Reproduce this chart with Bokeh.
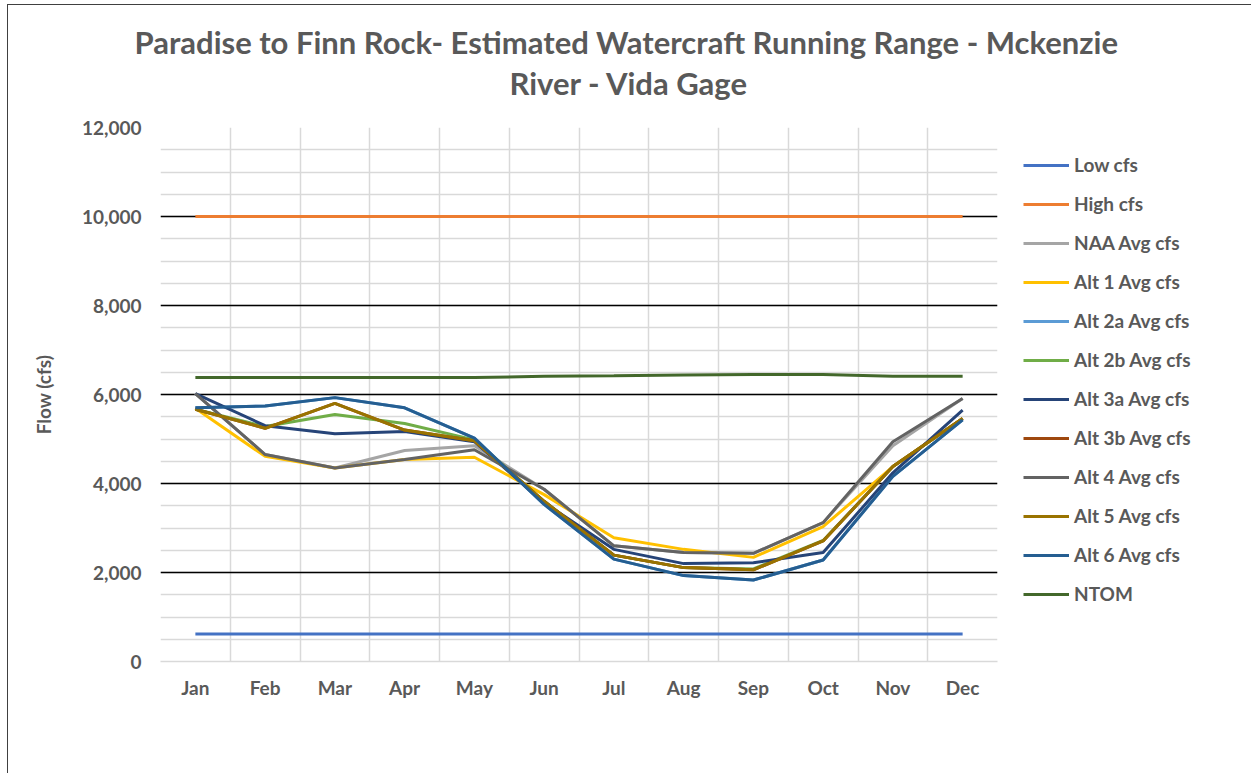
from bokeh.plotting import figure
from bokeh.models import Range1d, FixedTicker, Legend, LegendItem, Title, NumeralTickFormatter
from bokeh.embed import file_html
from bokeh.resources import INLINE

months = ["Jan", "Feb", "Mar", "Apr", "May", "Jun", "Jul", "Aug", "Sep", "Oct", "Nov", "Dec"]

low_cfs = [620, 620, 620, 620, 620, 620, 620, 620, 620, 620, 620, 620]
high_cfs = [10000, 10000, 10000, 10000, 10000, 10000, 10000, 10000, 10000, 10000, 10000, 10000]
naa_avg = [6020, 4650, 4350, 4740, 4850, 3870, 2600, 2450, 2430, 3120, 4850, 5910]
alt1_avg = [5690, 4610, 4350, 4540, 4590, 3750, 2780, 2520, 2340, 3030, 4380, 5460]
alt2a_avg = [5700, 5740, 5930, 5700, 5020, 3530, 2300, 1930, 1830, 2280, 4160, 5430]
alt2b_avg = [5670, 5280, 5550, 5350, 4980, 3600, 2390, 2110, 2080, 2720, 4380, 5460]
alt3a_avg = [6020, 5300, 5120, 5170, 4940, 3570, 2520, 2200, 2220, 2450, 4240, 5650]
alt3b_avg = [5670, 5240, 5800, 5200, 4960, 3600, 2390, 2110, 2060, 2710, 4380, 5460]
alt4_avg = [6020, 4650, 4350, 4540, 4760, 3870, 2600, 2450, 2430, 3120, 4940, 5910]
alt5_avg = [5670, 5240, 5800, 5200, 4960, 3600, 2390, 2110, 2060, 2710, 4380, 5460]
alt6_avg = [5700, 5740, 5930, 5700, 5020, 3530, 2300, 1930, 1830, 2280, 4160, 5430]
ntom = [6380, 6380, 6380, 6380, 6380, 6410, 6420, 6440, 6450, 6450, 6410, 6410]

series = [
    ("Low cfs", low_cfs, "#4472C4"),
    ("High cfs", high_cfs, "#ED7D31"),
    ("NAA Avg cfs", naa_avg, "#A5A5A5"),
    ("Alt 1 Avg cfs", alt1_avg, "#FFC000"),
    ("Alt 2a Avg cfs", alt2a_avg, "#5B9BD5"),
    ("Alt 2b Avg cfs", alt2b_avg, "#70AD47"),
    ("Alt 3a Avg cfs", alt3a_avg, "#264478"),
    ("Alt 3b Avg cfs", alt3b_avg, "#9E480E"),
    ("Alt 4 Avg cfs", alt4_avg, "#636363"),
    ("Alt 5 Avg cfs", alt5_avg, "#997300"),
    ("Alt 6 Avg cfs", alt6_avg, "#255E91"),
    ("NTOM", ntom, "#43682B"),
]

FONT = "Lato"
GREY = "#595959"

xs = [i + 0.5 for i in range(len(months))]

p = figure(frame_width=837, frame_height=534, output_backend="svg", toolbar_location=None, tools="",
           title=None, x_range=Range1d(0, len(months)), y_range=Range1d(0, 12000),
           min_border_left=152, min_border_right=0, min_border_top=122, min_border_bottom=112)
p.styles = {"border-left": "1.5px solid #404040", "border-top": "1.5px solid #404040",
            "margin-left": "7px", "margin-top": "4px"}
p.outline_line_color = None
p.background_fill_color = "white"
p.border_fill_color = "white"

# grids
p.ygrid.ticker = FixedTicker(ticks=list(range(2000, 12001, 2000)),
                             minor_ticks=list(range(0, 12001, 500)))
p.ygrid.grid_line_color = "black"
p.ygrid.grid_line_width = 1.3
p.ygrid.minor_grid_line_color = "#d9d9d9"
p.ygrid.minor_grid_line_width = 1.5
p.xgrid.ticker = FixedTicker(ticks=list(range(0, len(months) + 1)))
p.xgrid.grid_line_color = "#d9d9d9"
p.xgrid.grid_line_width = 1.5

# axes
p.xaxis.ticker = FixedTicker(ticks=xs)
p.xaxis.major_label_overrides = {x: m for x, m in zip(xs, months)}
p.xaxis.axis_line_color = "#d9d9d9"
p.xaxis.axis_line_width = 1.5
p.xaxis.major_tick_line_color = None
p.xaxis.minor_tick_line_color = None
p.xaxis.major_label_standoff = 8
p.xaxis.major_label_text_font = FONT
p.xaxis.major_label_text_font_style = "bold"
p.xaxis.major_label_text_font_size = "19px"
p.xaxis.major_label_text_color = GREY

p.yaxis.ticker = FixedTicker(ticks=list(range(0, 12001, 2000)))
p.yaxis.formatter = NumeralTickFormatter(format="0,0")
p.yaxis.axis_line_color = None
p.yaxis.major_tick_line_color = None
p.yaxis.minor_tick_line_color = None
p.yaxis.major_label_standoff = 13
p.yaxis.major_label_text_font = FONT
p.yaxis.major_label_text_font_style = "bold"
p.yaxis.major_label_text_font_size = "19px"
p.yaxis.major_label_text_color = GREY
p.yaxis.axis_label = "Flow (cfs)"
p.yaxis.axis_label_text_font = FONT
p.yaxis.axis_label_text_font_style = "bold"
p.yaxis.axis_label_text_font_size = "19px"
p.yaxis.axis_label_text_color = GREY
p.yaxis.axis_label_standoff = 24

items = []
for name, vals, color in series:
    r = p.line(xs, vals, line_width=3, line_color=color)
    items.append(LegendItem(label=name, renderers=[r]))

legend = Legend(items=items, location="top_left", border_line_color=None,
                background_fill_alpha=0, margin=26, padding=8, spacing=16,
                glyph_width=46, glyph_height=20, label_height=20, label_standoff=5,
                label_text_font=FONT, label_text_font_style="bold",
                label_text_font_size="19px", label_text_color=GREY)
p.add_layout(legend, "right")

spacer = Title(text=" ", align="left", standoff=12, text_font=FONT, text_font_size="10px",
               text_color="white")
t2 = Title(text="River - Vida Gage", align="left", offset=349, standoff=0,
           text_font=FONT, text_font_style="bold", text_font_size="31px", text_color=GREY)
t1 = Title(text="Paradise to Finn Rock- Estimated Watercraft Running Range - Mckenzie",
           align="left", offset=-26, standoff=2,
           text_font=FONT, text_font_style="bold", text_font_size="31px", text_color=GREY)
p.add_layout(spacer, "above")
p.add_layout(t2, "above")
p.add_layout(t1, "above")

open("out.html", "w").write(file_html(p, INLINE))
